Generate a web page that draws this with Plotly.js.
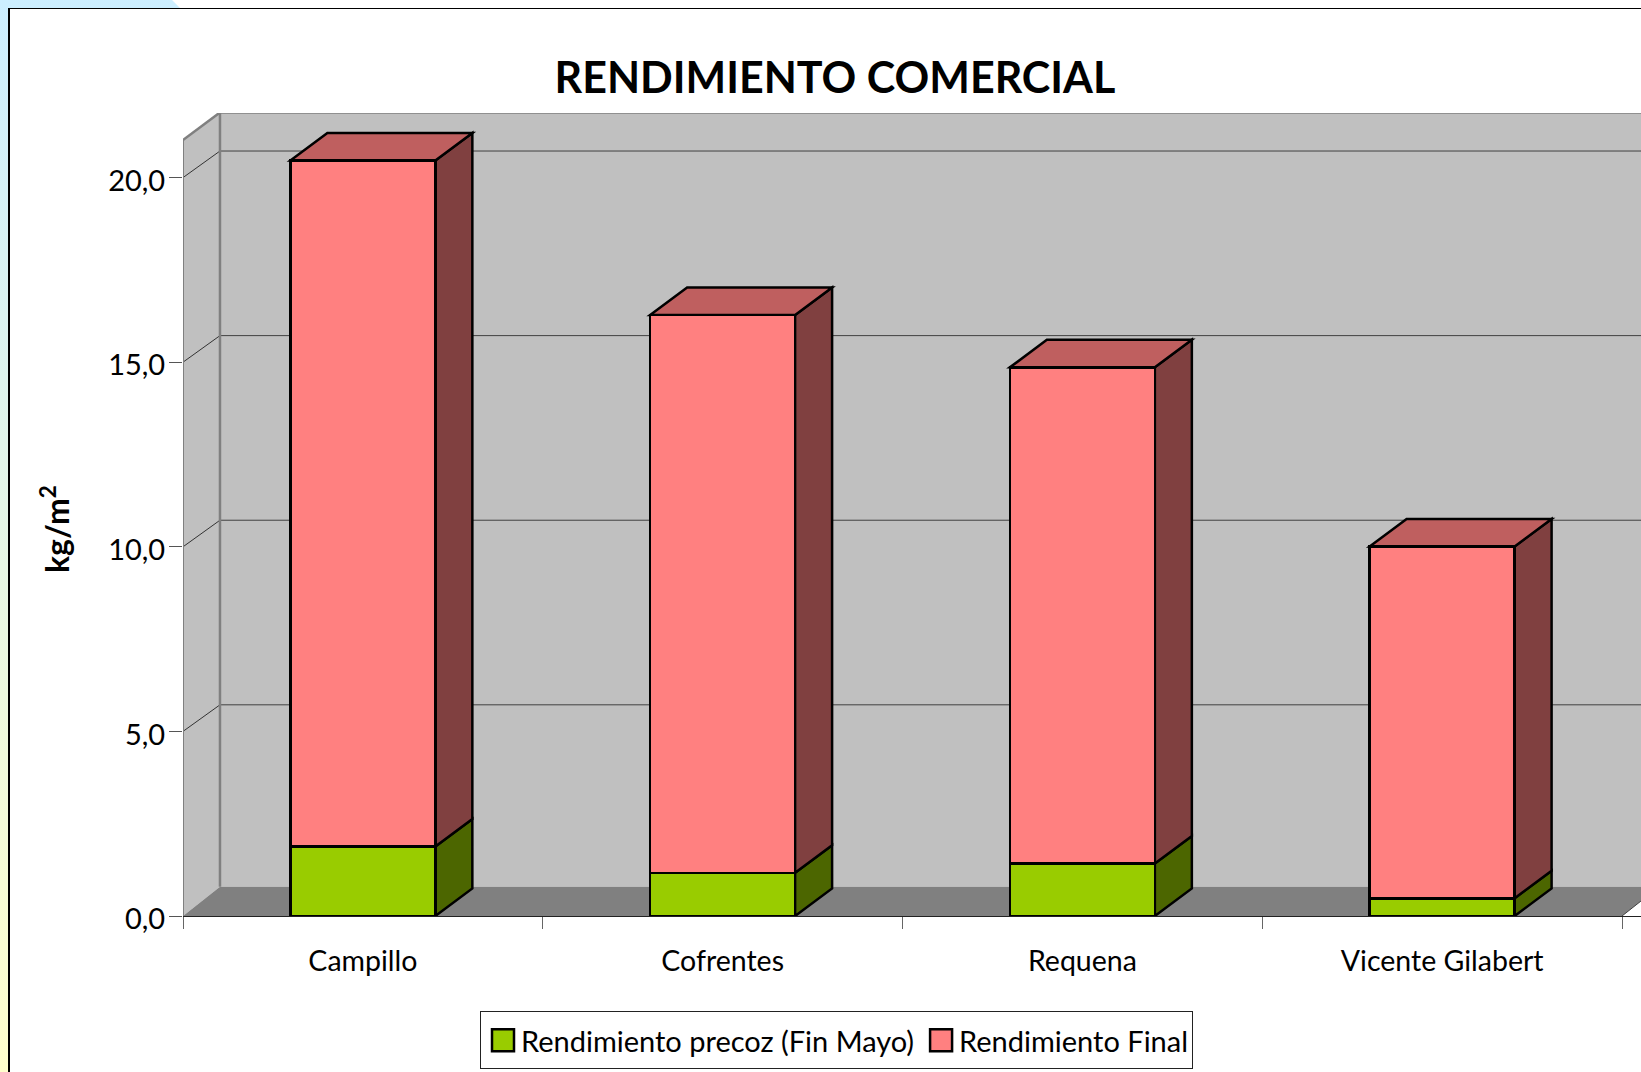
<!DOCTYPE html>
<html>
<head>
<meta charset="utf-8">
<script src="https://cdn.plot.ly/plotly-3.0.1.min.js"></script>
<style>
html,body{margin:0;padding:0;background:#fff;width:1641px;height:1072px;overflow:hidden}
#strip{position:absolute;left:0;top:0;width:180px;height:1072px;background:linear-gradient(to bottom,#cceeff 0%,#ffffcc 100%);clip-path:polygon(0 0,172px 0,180px 8px,8px 8px,8px 1072px,0 1072px)}
#panel{position:absolute;left:8px;top:8px;width:1633px;height:1064px;background:#fff;border-left:2px solid #000;border-top:1px solid #000;box-sizing:border-box}
#chart{position:absolute;left:0;top:0;width:1641px;height:1072px}
</style>
</head>
<body>
<div id="strip"></div>
<div id="panel"></div>
<div id="chart"></div>
<script>
const categories = ['Campillo', 'Cofrentes', 'Requena', 'Vicente Gilabert'];
const precoz = [1.88, 1.17, 1.42, 0.48];
const finalExtra = [18.58, 15.11, 13.44, 9.53];
const yTicks = [0, 5, 10, 15, 20];
const seriesNames = ['Rendimiento precoz (Fin Mayo)', 'Rendimiento Final'];
const titleText = 'RENDIMIENTO COMERCIAL';
const yTitle = 'kg/m<sup>2</sup>';

const FONT = 'Lato, "Open Sans", sans-serif';
const depthX = 0.1028, depthY = 0.745, gridDepth = 0.72, floorDepth = 0.79, barW = 0.403;
const yTop = 21.02;
const xL = -0.5, xR = categories.length - 0.5;

function poly(pts, fill, line, width) {
  return {
    type: 'path', xref: 'x', yref: 'y', layer: 'below',
    path: 'M' + pts.map(p => p[0] + ',' + p[1]).join('L') + 'Z',
    fillcolor: fill,
    line: line ? {color: line, width: width} : {width: 0}
  };
}
function seg(x0, y0, x1, y1, color, width) {
  return {type: 'line', xref: 'x', yref: 'y', layer: 'below', x0, y0, x1, y1, line: {color, width}};
}

const shapes = [];
// walls and floor
shapes.push(poly([[xL+depthX,floorDepth],[xR+depthX,floorDepth],[xR+depthX,yTop+depthY],[xL+depthX,yTop+depthY]], '#c0c0c0'));
shapes.push(poly([[xL,0],[xL+depthX,floorDepth],[xL+depthX,yTop+depthY],[xL,yTop]], '#c0c0c0'));
shapes.push(poly([[xL,0],[xL+depthX,floorDepth],[xR+depthX,floorDepth],[xR,0]], '#808080'));
// gridlines
yTicks.slice(1).forEach(v => {
  shapes.push(seg(xL, v, xL+depthX, v+gridDepth, '#333333', 1));
  shapes.push(seg(xL+depthX, v+gridDepth, xR+depthX, v+gridDepth, '#404040', 1));
});
// wall outlines
shapes.push(seg(xL, 0, xL, yTop, '#808080', 2));
shapes.push(seg(xL, yTop, xL+depthX, yTop+depthY, '#808080', 2.5));
shapes.push(seg(xL+depthX, floorDepth, xL+depthX, yTop+depthY, '#808080', 2.5));
shapes.push(seg(xL+depthX, yTop+depthY, xR+depthX, yTop+depthY, '#808080', 2.5));
shapes.push(seg(xR, 0, xR+depthX, floorDepth, '#404040', 1));
// 3D faces of the bars
categories.forEach((c, i) => {
  const a = i + barW/2, b = precoz[i], t = precoz[i] + finalExtra[i];
  const k = '#000';
  shapes.push(poly([[a,0],[a+depthX,depthY],[a+depthX,b+depthY],[a,b]], '#4c6600', k, 2.5));
  shapes.push(poly([[a,b],[a+depthX,b+depthY],[a+depthX,t+depthY],[a,t]], '#804040', k, 2.5));
  shapes.push(poly([[a-barW,t],[a-barW+depthX,t+depthY],[a+depthX,t+depthY],[a,t]], '#bf5f5f', k, 2.5));
});

const traces = [
  {type:'bar', name:seriesNames[0], x:categories, y:precoz, marker:{color:'#99cc00', line:{color:'#000', width:2.5}}, cliponaxis:false, hoverinfo:'skip'},
  {type:'bar', name:seriesNames[1], x:categories, y:finalExtra, marker:{color:'#ff8080', line:{color:'#000', width:2.5}}, cliponaxis:false, hoverinfo:'skip'}
];

const layout = {
  width: 1641, height: 1072,
  paper_bgcolor: 'rgba(0,0,0,0)', plot_bgcolor: 'rgba(0,0,0,0)',
  margin: {l:183, r:0, t:113, b:156, pad:0},
  barmode: 'stack', bargap: 1 - barW,
  separators: ',.',
  font: {family: FONT, color: '#000', size: 26},
  title: {text: titleText, x: 0.5088, xref:'container', xanchor:'center', y: 1-78/1072, yref:'container', yanchor:'middle', font:{family:FONT, size:43, color:'#000', weight:700}},
  xaxis: {type:'category', range:[xL, xL + 1458/359.75], tickson:'boundaries', ticks:'outside', ticklen:12, tickwidth:1, tickcolor:'#666',
    showgrid:false, zeroline:false, showline:true, linecolor:'#222', linewidth:1, tickfont:{size:28.5, family:FONT}, ticklabelstandoff:20, fixedrange:true, automargin:false},
  yaxis: {range:[0, (916-113)/36.92], tickmode:'array', tickvals:yTicks, tickformat:'.1f', ticks:'outside', ticklen:13, tickwidth:1, tickcolor:'#555',
    showgrid:false, zeroline:false, showline:false, tickfont:{size:29, family:FONT}, ticklabelshift:3, ticklabelstandoff:-2, fixedrange:true, automargin:false},
  annotations: [{text:yTitle, xref:'paper', yref:'paper', x:-128/1458, y:(916-529)/803, xanchor:'center', yanchor:'middle', textangle:-90, showarrow:false, font:{size:32, family:FONT, weight:700, color:'#000'}}],
  legend: {orientation:'h', x:(480-183)/1458, xanchor:'left', y:(916-1014)/803, yanchor:'top',
    bgcolor:'#fff', bordercolor:'#222', borderwidth:1, font:{size:29, family:FONT}, traceorder:'normal', itemclick:false, itemdoubleclick:false},
  shapes,
  showlegend: true
};
Plotly.newPlot('chart', traces, layout, {displayModeBar:false, staticPlot:true}).then(() => {
  const root = document.getElementById('chart');
  root.querySelectorAll('.legendpoints path').forEach(p => p.setAttribute('d', 'M13,11H-9V-11H13Z'));
  const bg = root.querySelector('.legend .bg');
  if (bg) {
    bg.setAttribute('y', -3);
    bg.setAttribute('height', 57);
    bg.setAttribute('width', parseFloat(bg.getAttribute('width')) - 2);
  }
  root.querySelectorAll('text').forEach(t => { if (!t.textContent.trim()) t.remove(); });
});
</script>
</body>
</html>
